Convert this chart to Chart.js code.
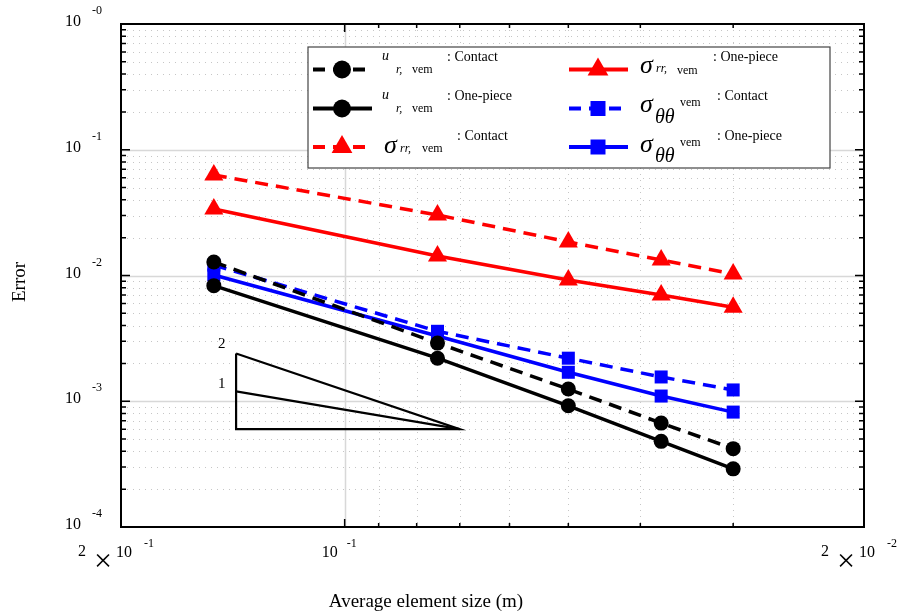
<!DOCTYPE html>
<html>
<head>
<meta charset="utf-8">
<script src="https://cdn.jsdelivr.net/npm/chart.js@4/dist/chart.umd.min.js"></script>
<style>
  body { margin: 0; background: #fff; }
</style>
</head>
<body>
<canvas id="errchart" width="897" height="615"></canvas>
<script>
// element sizes (m)
const sizes = [0.15, 0.075, 0.05, 0.0375, 0.03];

// errors
const urContact   = [0.0128, 0.0029, 0.00125, 0.00067, 0.00042];
const urOnePiece  = [0.0083, 0.0022, 0.00092, 0.00048, 0.00029];
const srrContact  = [0.063, 0.0303, 0.0185, 0.0133, 0.0103];
const srrOnePiece = [0.0338, 0.0143, 0.0092, 0.0070, 0.0056];
const sttContact  = [0.0121, 0.0036, 0.0022, 0.00156, 0.00123];
const sttOnePiece = [0.0101, 0.0033, 0.0017, 0.0011, 0.00082];

// slope triangle
const slopeX = [0.14, 0.07];
const slopeY = [0.0006, 0.0012, 0.0024];

// ticks
const xTicks = [0.02, 0.03, 0.04, 0.05, 0.06, 0.07, 0.08, 0.09, 0.1, 0.2];
const xMajor = [0.1];
const xLabelValues = [0.2, 0.1, 0.02];
const xLabelMant = ['2', '', '2'];
const xLabelExp = ['-1', '-1', '-2'];
const yTicks = [];
for (let d = -4; d < 0; d++) {
    for (let k = 1; k < 10; k++) yTicks.push(k * Math.pow(10, d));
}
yTicks.push(1);
const yMajor = [1e-4, 1e-3, 1e-2, 1e-1, 1];
const yLabelExp = ['-4', '-3', '-2', '-1', '-0'];

const pts = (ys) => ys.map((y, i) => ({x: sizes[i], y: y}));

const serif = '"Liberation Serif", "DejaVu Serif", serif';

function drawMarker(ctx, style, x, y, r, color) {
    ctx.save();
    ctx.fillStyle = color;
    ctx.beginPath();
    if (style === 'circle') {
        ctx.arc(x, y, r, 0, Math.PI * 2);
    } else if (style === 'triangle') {
        ctx.moveTo(x, y - r);
        ctx.lineTo(x + r * 0.866, y + r * 0.5);
        ctx.lineTo(x - r * 0.866, y + r * 0.5);
        ctx.closePath();
    } else {
        ctx.rect(x - r, y - r, 2 * r, 2 * r);
    }
    ctx.fill();
    ctx.restore();
}

function txt(ctx, s, x, y, font) {
    ctx.font = font;
    ctx.fillText(s, x, y);
}

const decor = {
    id: 'decor',
    beforeDatasetsDraw(chart) {
        const {ctx, chartArea: a, scales: {x, y}} = chart;
        ctx.save();
        xTicks.forEach(v => {
            const px = Math.round(x.getPixelForValue(v)) + 0.5;
            if (px < a.left + 2 || px > a.right - 2) return;
            const major = xMajor.includes(v);
            ctx.strokeStyle = major ? '#d8d8d8' : '#c6c6c6';
            ctx.lineWidth = major ? 1.5 : 1;
            ctx.setLineDash(major ? [] : [1, 5]);
            ctx.beginPath();
            ctx.moveTo(px, a.top);
            ctx.lineTo(px, a.bottom);
            ctx.stroke();
        });
        yTicks.forEach(v => {
            const py = Math.round(y.getPixelForValue(v)) + 0.5;
            if (py < a.top + 2 || py > a.bottom - 2) return;
            const major = yMajor.includes(v);
            ctx.strokeStyle = major ? '#d8d8d8' : '#c6c6c6';
            ctx.lineWidth = major ? 1.5 : 1;
            ctx.setLineDash(major ? [] : [1, 5]);
            ctx.beginPath();
            ctx.moveTo(a.left, py);
            ctx.lineTo(a.right, py);
            ctx.stroke();
        });
        ctx.restore();
    },
    afterDatasetsDraw(chart) {
        const {ctx, chartArea: a, scales: {x, y}} = chart;
        ctx.save();

        // ticks pointing inward
        ctx.strokeStyle = '#000';
        ctx.lineWidth = 1.5;
        xTicks.forEach(v => {
            const px = x.getPixelForValue(v);
            const len = xMajor.includes(v) ? 8 : 4;
            ctx.beginPath();
            ctx.moveTo(px, a.bottom); ctx.lineTo(px, a.bottom - len);
            ctx.moveTo(px, a.top); ctx.lineTo(px, a.top + len);
            ctx.stroke();
        });
        yTicks.forEach(v => {
            const py = y.getPixelForValue(v);
            const len = yMajor.includes(v) ? 9 : 5;
            ctx.beginPath();
            ctx.moveTo(a.left, py); ctx.lineTo(a.left + len, py);
            ctx.moveTo(a.right, py); ctx.lineTo(a.right - len, py);
            ctx.stroke();
        });

        // box
        ctx.lineWidth = 2;
        ctx.strokeRect(a.left, a.top, a.right - a.left, a.bottom - a.top);

        // tick labels
        ctx.fillStyle = '#000';
        ctx.textAlign = 'left';
        ctx.textBaseline = 'alphabetic';
        yMajor.forEach((v, i) => {
            const py = y.getPixelForValue(v);
            txt(ctx, '10', 65, py + 2, '16px ' + serif);
            txt(ctx, yLabelExp[i], 92, py - 10, '12px ' + serif);
        });
        xLabelValues.forEach((v, i) => {
            const px = x.getPixelForValue(v);
            if (xLabelMant[i]) {
                txt(ctx, xLabelMant[i], px - 43, 556, '16px ' + serif);
                ctx.textAlign = 'center';
                ctx.textBaseline = 'middle';
                txt(ctx, '\u00d7', px - 18, 563, '32px ' + serif);
                ctx.textAlign = 'left';
                ctx.textBaseline = 'alphabetic';
                txt(ctx, '10', px - 5, 557, '16px ' + serif);
                txt(ctx, xLabelExp[i], px + 23, 547, '12px ' + serif);
            } else {
                txt(ctx, '10', px - 23, 557, '16px ' + serif);
                txt(ctx, xLabelExp[i], px + 2, 547, '12px ' + serif);
            }
        });

        // axis titles
        ctx.textAlign = 'center';
        txt(ctx, 'Average element size (m)', 426, 607, '19px ' + serif);
        ctx.save();
        ctx.translate(25, 282);
        ctx.rotate(-Math.PI / 2);
        txt(ctx, 'Error', 0, 0, '19px ' + serif);
        ctx.restore();

        // slope labels
        ctx.textAlign = 'left';
        txt(ctx, '2', 218, 348, '15px ' + serif);
        txt(ctx, '1', 218, 388, '15px ' + serif);

        // legend
        ctx.fillStyle = '#fff';
        ctx.fillRect(308, 47, 522, 121);
        ctx.strokeStyle = '#444';
        ctx.lineWidth = 1.2;
        ctx.strokeRect(308, 47, 522, 121);

        const samples = [
            [313, 372, 342, 69.5, '#000', true, 'circle', 9],
            [313, 372, 342, 108.5, '#000', false, 'circle', 9],
            [313, 372, 342, 147, '#f00', true, 'triangle', 12],
            [569, 628, 598, 69.5, '#f00', false, 'triangle', 12],
            [569, 628, 598, 108.5, '#00f', true, 'rect', 7.5],
            [569, 628, 598, 147, '#00f', false, 'rect', 7.5]
        ];
        samples.forEach(([x0, x1, mx, my, c, dashed, st, r]) => {
            ctx.strokeStyle = c;
            ctx.lineWidth = 4;
            ctx.setLineDash(dashed ? [12, 8] : []);
            ctx.beginPath();
            ctx.moveTo(x0, my); ctx.lineTo(x1, my);
            ctx.stroke();
            ctx.setLineDash([]);
            drawMarker(ctx, st, mx, my, r, c);
        });

        ctx.fillStyle = '#000';
        const it14 = 'italic 14px ' + serif, it12 = 'italic 12px ' + serif;
        const n12 = '12px ' + serif, n14 = '14px ' + serif;
        const sig = 'italic 26px ' + serif, th = 'italic 20px ' + serif;
        txt(ctx, 'u', 382, 60, it14); txt(ctx, 'r,', 396, 73, it12); txt(ctx, 'vem', 412, 73, n12);
        txt(ctx, ': Contact', 447, 61, n14);
        txt(ctx, 'u', 382, 99, it14); txt(ctx, 'r,', 396, 112, it12); txt(ctx, 'vem', 412, 112, n12);
        txt(ctx, ': One-piece', 447, 100, n14);
        txt(ctx, '\u03c3', 384, 153, sig); txt(ctx, 'rr,', 400, 152, it12); txt(ctx, 'vem', 422, 152, n12);
        txt(ctx, ': Contact', 457, 140, n14);
        txt(ctx, '\u03c3', 640, 73, sig); txt(ctx, 'rr,', 656, 72, it12); txt(ctx, 'vem', 677, 74, n12);
        txt(ctx, ': One-piece', 713, 61, n14);
        txt(ctx, '\u03c3', 640, 112, sig); txt(ctx, '\u03b8\u03b8', 655, 123, th); txt(ctx, 'vem', 680, 106, n12);
        txt(ctx, ': Contact', 717, 100, n14);
        txt(ctx, '\u03c3', 640, 152, sig); txt(ctx, '\u03b8\u03b8', 655, 162, th); txt(ctx, 'vem', 680, 146, n12);
        txt(ctx, ': One-piece', 717, 140, n14);

        ctx.restore();
    }
};

const lineSet = (data, color, dashed, style, radius) => ({
    data: pts(data),
    borderColor: color,
    backgroundColor: color,
    borderWidth: 3.5,
    borderDash: dashed ? [13, 8] : [],
    pointStyle: style,
    pointRadius: radius,
    pointBorderWidth: 0,
    tension: 0
});

const ctx = document.getElementById('errchart').getContext('2d');
const errChart = new Chart(ctx, {
    type: 'line',
    data: {
        datasets: [
            {
                data: [
                    {x: slopeX[0], y: slopeY[2]},
                    {x: slopeX[0], y: slopeY[0]},
                    {x: slopeX[1], y: slopeY[0]},
                    {x: slopeX[0], y: slopeY[2]}
                ],
                borderColor: '#000', borderWidth: 2.2, pointRadius: 0
            },
            {
                data: [{x: slopeX[0], y: slopeY[1]}, {x: slopeX[1], y: slopeY[0]}],
                borderColor: '#000', borderWidth: 2.2, pointRadius: 0
            },
            lineSet(urContact, '#000', true, 'circle', 7.5),
            lineSet(urOnePiece, '#000', false, 'circle', 7.5),
            lineSet(srrContact, '#f00', true, 'triangle', 11),
            lineSet(srrOnePiece, '#f00', false, 'triangle', 11),
            lineSet(sttContact, '#00f', true, 'rect', 9.2),
            lineSet(sttOnePiece, '#00f', false, 'rect', 9.2)
        ]
    },
    options: {
        responsive: false,
        animation: false,
        layout: {
            padding: {left: 121, right: 33, top: 24, bottom: 88}
        },
        scales: {
            x: {
                type: 'logarithmic', min: 0.02, max: 0.2, reverse: true,
                display: false
            },
            y: {
                type: 'logarithmic', min: 1e-4, max: 1,
                display: false
            }
        },
        plugins: {
            legend: {display: false},
            tooltip: {enabled: false}
        }
    },
    plugins: [decor]
});
</script>
</body>
</html>
